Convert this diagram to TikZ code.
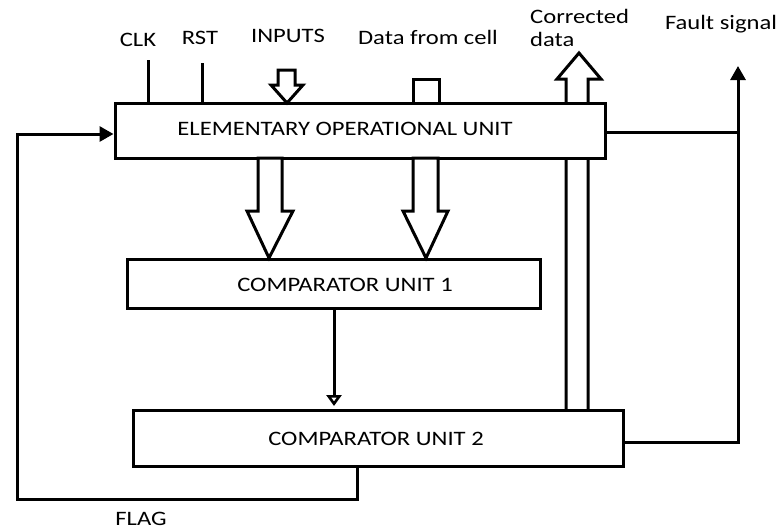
\documentclass[tikz,border=0pt]{standalone}
\usepackage{fontspec}
\setmainfont{Carlito}[FakeStretch=1.2]
\usetikzlibrary{arrows.meta, calc}

\begin{document}
\begin{tikzpicture}[x=1pt, y=-1pt,
  unit/.style={draw, fill=white, line width=3pt, inner sep=0pt, minimum width=#1},
  lbl/.style={font=\fontsize{20.5}{25}\selectfont, inner sep=0pt, align=left},
  wire/.style={line width=3pt},
  arr/.style={wire, -{Triangle[length=14pt, width=15pt]}},
  openarr/.style={wire, -{Triangle[open, length=11pt, width=15pt, line width=2.6pt]}},
  fat/.style={draw, line width=3pt, fill=white, line join=miter}
]
\useasboundingbox (0,0) rectangle (779,531);

% corrected data (runs behind the top block)
\draw[fat] (566,410) -- (566,79) -- (557,79) -- (579,53) -- (601,79) -- (588,79) -- (588,410);

% blocks
\node[unit=490pt, minimum height=55pt] (eou) at (360,130.5) {};
\node[lbl] at (345,129) {ELEMENTARY OPERATIONAL UNIT};
\node[unit=413pt, minimum height=49pt] (cu1) at (333.5,283.5) {};
\node[lbl] at (345,285) {COMPARATOR UNIT 1};
\node[unit=490pt, minimum height=56pt] (cu2) at (378,438) {};
\node[lbl] at (376,439) {COMPARATOR UNIT 2};

% top labels
\node[lbl] (clk)  at (138,40)  {CLK};
\node[lbl] (rst)  at (200,38)  {RST};
\node[lbl] (inp)  at (288,36)  {INPUTS};
\node[lbl] (dcell) at (428,37) {Data from cell};
\node[lbl, anchor=west] (corr) at (530,28) {Corrected\\[-2pt]data};
\node[lbl] (fault) at (721,24) {Fault signal};
\node[lbl] (flag) at (141,519) {FLAG};

% control lines
\draw[wire] (148,60) -- (148,104);
\draw[wire] (202,63) -- (202,104);

% inputs (hollow arrow)
\draw[fat] (278,70) -- (295,70) -- (295,85) -- (303,85) -- (287,103) -- (271,85) -- (278,85) -- cycle;
% data from cell
\draw[wire, line join=miter] (413,104) -- (413,79) -- (439,79) -- (439,104);

% EOU -> CU1
\draw[fat] (258,158) -- (282,158) -- (282,211) -- (293,211) -- (269,258) -- (247,211) -- (258,211) -- cycle;
\draw[fat] (413,158) -- (438,158) -- (438,211) -- (448,211) -- (426,258) -- (403,211) -- (413,211) -- cycle;

% CU1 -> CU2
\draw[openarr] (cu1.south -| 334,0) -- (334,406);

% fault signal
\draw[wire] (eou.east |- 0,132) -- (738,132);
\draw[arr] (cu2.east |- 0,442) -- (738,442) -- (738,66);

% flag feedback
\draw[arr] (357,466) -- (357,499) -| (17,134) -- (eou.west |- 0,134);
\end{tikzpicture}
\end{document}
